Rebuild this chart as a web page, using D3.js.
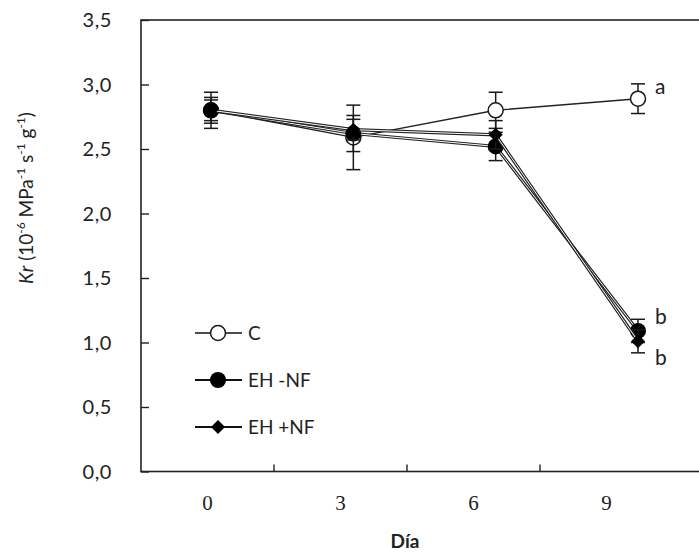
<!DOCTYPE html>
<html>
<head>
<meta charset="utf-8">
<script src="https://cdn.jsdelivr.net/npm/d3@7"></script>
<style>
  html, body { margin: 0; padding: 0; background: #fff; }
  svg { display: block; }
</style>
</head>
<body>
<svg id="chart" width="699" height="553"></svg>
<script>
// Day categories and tick labels
const days = [0, 3, 6, 9];
const dayLabels = ["0", "3", "6", "9"];
const yTicks = [0, 0.5, 1, 1.5, 2, 2.5, 3, 3.5];

// Series means
const cMean    = [2.80, 2.59, 2.80, 2.89];
const ehNfMean = [2.80, 2.62, 2.52, 1.09];
const ehPfMean = [2.80, 2.65, 2.61, 1.01];
// Standard errors
const cErr    = [0.14, 0.25, 0.14, 0.115];
const ehNfErr = [0.10, 0.14, 0.11, 0.09];
const ehPfErr = [0.08, 0.08, 0.11, 0.09];

// Significance letters at day 9
const sigLetters = ["a", "b", "b"];

const seriesNames = ["C", "EH -NF", "EH +NF"];

const series = [
  { name: seriesNames[0], mean: cMean, err: cErr, marker: "circleOpen", outline: false },
  { name: seriesNames[1], mean: ehNfMean, err: ehNfErr, marker: "circle", outline: true },
  { name: seriesNames[2], mean: ehPfMean, err: ehPfErr, marker: "diamond", outline: true }
];

const svg = d3.select("#chart");
const plotLeft = 141, plotTop = 20, plotBottom = 471.5, catRight = 673;
const ink = "#1a1a1a";
const sans = "Lato, 'Open Sans', sans-serif";

const y = d3.scaleLinear().domain([0, 3.5]).range([plotBottom, plotTop]);
const xBand = d3.scaleBand().domain(dayLabels).range([plotLeft, catRight]);
const x = d3.scaleLinear().domain([0, 9]).range([211, 638]);

// Frame
svg.append("rect")
  .attr("x", plotLeft).attr("y", plotTop)
  .attr("width", 720 - plotLeft).attr("height", plotBottom - plotTop)
  .attr("fill", "none").attr("stroke", "#222").attr("stroke-width", 1.6);

// Y axis ticks (inside) and labels
const yAxis = d3.axisRight(y).tickValues(yTicks).tickSize(8).tickFormat("");
svg.append("g").attr("transform", `translate(${plotLeft},0)`).call(yAxis)
  .call(g => g.select(".domain").remove())
  .call(g => g.selectAll("line").attr("stroke", "#222").attr("stroke-width", 1.4));

svg.append("g").selectAll("text").data(yTicks).join("text")
  .attr("x", 112).attr("y", d => y(d)).attr("dy", "0.35em")
  .attr("text-anchor", "end")
  .attr("font-family", sans).attr("font-size", 20).attr("letter-spacing", 0.6).attr("fill", "#222")
  .text(d => d3.format(".1f")(d).replace(".", ","));

// X axis: tick marks on category boundaries, labels at band centres
const bounds = dayLabels.slice(1).map(d => xBand(d));
svg.append("g").selectAll("line").data(bounds).join("line")
  .attr("x1", d => d).attr("x2", d => d)
  .attr("y1", plotBottom).attr("y2", plotBottom - 7)
  .attr("stroke", "#222").attr("stroke-width", 1.4);

svg.append("g").selectAll("text").data(dayLabels).join("text")
  .attr("x", d => xBand(d) + xBand.bandwidth() / 2).attr("y", 510)
  .attr("text-anchor", "middle")
  .attr("font-family", "'Liberation Serif', serif").attr("font-size", 21).attr("fill", "#222")
  .text(d => d);

svg.append("text")
  .attr("x", 405).attr("y", 548)
  .attr("text-anchor", "middle")
  .attr("font-family", sans).attr("font-weight", "bold").attr("font-size", 19).attr("fill", "#222")
  .text("Día");

// Y axis title
const yt = svg.append("text")
  .attr("transform", "translate(33,198) rotate(-90)")
  .attr("text-anchor", "middle")
  .attr("font-family", sans).attr("font-size", 19).attr("fill", "#222");
yt.append("tspan").attr("font-style", "italic").text("Kr");
yt.append("tspan").text(" (10");
yt.append("tspan").attr("font-size", 12).attr("dy", -8).text("-6");
yt.append("tspan").attr("dy", 8).text(" MPa");
yt.append("tspan").attr("font-size", 12).attr("dy", -8).text("-1");
yt.append("tspan").attr("dy", 8).text(" s");
yt.append("tspan").attr("font-size", 12).attr("dy", -8).text("-1");
yt.append("tspan").attr("dy", 8).text(" g");
yt.append("tspan").attr("font-size", 12).attr("dy", -8).text("-1");
yt.append("tspan").attr("dy", 8).text(")");

// Marker drawing
function drawMarker(g, type, cx, cy) {
  if (type === "circleOpen") {
    g.append("circle").attr("cx", cx).attr("cy", cy).attr("r", 7.5)
      .attr("fill", "#fff").attr("stroke", ink).attr("stroke-width", 1.5);
  } else if (type === "circle") {
    g.append("circle").attr("cx", cx).attr("cy", cy).attr("r", 8)
      .attr("fill", "#000");
  } else {
    const s = 7;
    g.append("path")
      .attr("d", `M${cx},${cy - s}L${cx + s},${cy}L${cx},${cy + s}L${cx - s},${cy}Z`)
      .attr("fill", "#000");
  }
}

const line = d3.line().x((d, i) => x(days[i])).y(d => y(d));
const plot = svg.append("g");

series.forEach(s => {
  const g = plot.append("g");
  // error bars
  s.mean.forEach((m, i) => {
    const cx = x(days[i]);
    const lo = y(m - s.err[i]), hi = y(m + s.err[i]);
    g.append("line").attr("x1", cx).attr("x2", cx).attr("y1", lo).attr("y2", hi)
      .attr("stroke", ink).attr("stroke-width", 1.5);
    [lo, hi].forEach(v => g.append("line")
      .attr("x1", cx - 7).attr("x2", cx + 7).attr("y1", v).attr("y2", v)
      .attr("stroke", ink).attr("stroke-width", 1.5));
  });
  // connecting line
  if (s.outline) {
    g.append("path").attr("d", line(s.mean)).attr("fill", "none")
      .attr("stroke", "#222").attr("stroke-width", 3.2);
    g.append("path").attr("d", line(s.mean)).attr("fill", "none")
      .attr("stroke", "#fff").attr("stroke-width", 1);
  } else {
    g.append("path").attr("d", line(s.mean)).attr("fill", "none")
      .attr("stroke", "#222").attr("stroke-width", 1.4);
  }
  s.mean.forEach((m, i) => drawMarker(g, s.marker, x(days[i]), y(m)));
});

// Significance letters next to day 9
const letterY = [cMean[3] + 0.09, ehNfMean[3] + 0.11, ehPfMean[3] - 0.13];
svg.append("g").selectAll("text").data(sigLetters).join("text")
  .attr("x", 655).attr("y", (d, i) => y(letterY[i])).attr("dy", "0.35em")
  .attr("font-family", sans).attr("font-size", 21).attr("fill", "#222")
  .text(d => d);

// Legend
const legend = svg.append("g");
const legendY = [333, 380, 427];
series.forEach((s, i) => {
  const ly = legendY[i];
  legend.append("line").attr("x1", 195).attr("x2", 242).attr("y1", ly).attr("y2", ly)
    .attr("stroke", "#111").attr("stroke-width", s.outline ? 2 : 1.4);
  drawMarker(legend, s.marker, 218, ly);
  legend.append("text").attr("x", 248).attr("y", ly).attr("dy", "0.36em")
    .attr("font-family", sans).attr("font-size", 19).attr("fill", "#222")
    .text(s.name);
});
</script>
</body>
</html>
